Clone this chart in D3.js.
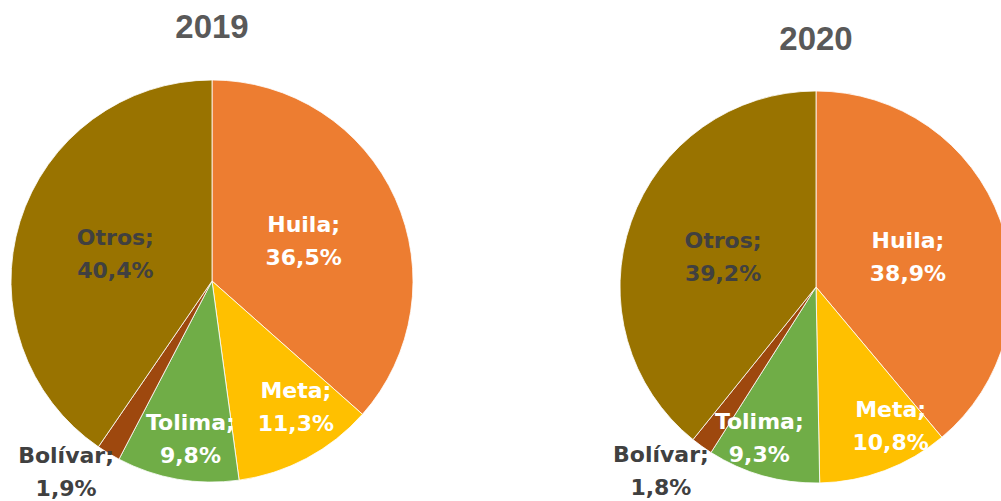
<!DOCTYPE html>
<html>
<head>
<meta charset="utf-8">
<script src="https://cdn.jsdelivr.net/npm/d3@7"></script>
<style>
  html, body { margin: 0; padding: 0; background: #fff; }
  svg { display: block; }
</style>
</head>
<body>
<svg id="chart" width="1001" height="501"></svg>
<script>
// ---- data ----
const categories = ["Huila", "Meta", "Tolima", "Bolívar", "Otros"];
const years = ["2019", "2020"];
const values2019 = [36.5, 11.3, 9.8, 1.9, 40.4];
const values2020 = [38.9, 10.8, 9.3, 1.8, 39.2];
const colors = ["#ED7D31", "#FFC000", "#70AD47", "#9E480E", "#997300"];
const labelColors = ["#FFFFFF", "#FFFFFF", "#FFFFFF", "#404040", "#404040"];

// ---- layout (label placement: radius fraction, angle nudge in degrees) ----
const panels = [
  { year: years[0], values: values2019, cx: 212, cy: 281, r: 201, titleY: 38,
    place: [[0.50, 0], [0.75, -5.7], [0.79, -2.1], [1.19, 6.6], [0.50, -1.3]] },
  { year: years[1], values: values2020, cx: 816, cy: 287, r: 196, titleY: 50,
    place: [[0.495, 1.4], [0.80, -7.9], [0.82, 5.0], [1.225, 4.6], [0.50, -1.0]] }
];

const svg = d3.select("#chart");
const fmt = v => d3.format(".1f")(v).replace(".", ",") + "%";

const pie = d3.pie().sort(null).value(d => d);

panels.forEach(p => {
  const g = svg.append("g").attr("transform", `translate(${p.cx},${p.cy})`);
  const arc = d3.arc().innerRadius(0).outerRadius(p.r);
  const arcs = pie(p.values);

  g.selectAll("path.slice")
    .data(arcs)
    .enter().append("path")
    .attr("class", "slice")
    .attr("d", arc)
    .attr("fill", (d, i) => colors[i])
    .attr("stroke", "#ffffff")
    .attr("stroke-width", 0.8);

  // labels
  arcs.forEach((d, i) => {
    const [rf, nudge] = p.place[i];
    const a = (d.startAngle + d.endAngle) / 2 + nudge * Math.PI / 180;
    const lr = p.r * rf;
    const x = Math.sin(a) * lr;
    const y = -Math.cos(a) * lr;
    const t = g.append("text")
      .attr("text-anchor", "middle")
      .attr("font-family", "'DejaVu Sans', sans-serif")
      .attr("font-weight", "bold")
      .attr("font-size", 22)
      .attr("fill", labelColors[i]);
    t.append("tspan").attr("x", x).attr("y", y - 8).text(categories[i] + ";");
    t.append("tspan").attr("x", x).attr("y", y + 25).text(fmt(p.values[i]));
  });

  // title
  svg.append("text")
    .attr("x", p.cx)
    .attr("y", p.titleY)
    .attr("text-anchor", "middle")
    .attr("font-family", "'Liberation Sans', Arial, sans-serif")
    .attr("font-weight", "bold")
    .attr("font-size", 33)
    .attr("fill", "#595959")
    .text(p.year);
});
</script>
</body>
</html>
